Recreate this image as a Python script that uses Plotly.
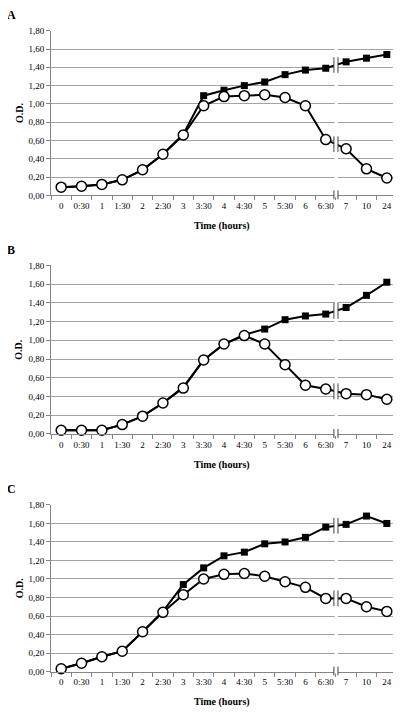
import plotly.graph_objects as go

times = ["0", "0:30", "1", "1:30", "2", "2:30", "3", "3:30", "4", "4:30",
         "5", "5:30", "6", "6:30", "7", "10", "24"]
y_ticks = [0.0, 0.2, 0.4, 0.6, 0.8, 1.0, 1.2, 1.4, 1.6, 1.8]

a_squares = [0.09, 0.10, 0.12, 0.17, 0.28, 0.45, 0.67, 1.09, 1.15, 1.20, 1.24, 1.32, 1.37, 1.39, 1.46, 1.50, 1.54]
a_circles = [0.09, 0.10, 0.12, 0.17, 0.28, 0.45, 0.66, 0.98, 1.08, 1.09, 1.10, 1.07, 0.98, 0.61, 0.51, 0.29, 0.19]
b_squares = [0.04, 0.04, 0.04, 0.10, 0.19, 0.33, 0.50, 0.79, 0.96, 1.06, 1.12, 1.22, 1.26, 1.28, 1.35, 1.48, 1.62]
b_circles = [0.04, 0.04, 0.04, 0.10, 0.19, 0.33, 0.49, 0.79, 0.96, 1.05, 0.96, 0.74, 0.52, 0.48, 0.43, 0.42, 0.37]
c_squares = [0.03, 0.09, 0.16, 0.22, 0.43, 0.65, 0.94, 1.12, 1.25, 1.29, 1.38, 1.40, 1.45, 1.56, 1.59, 1.68, 1.60]
c_circles = [0.03, 0.09, 0.16, 0.22, 0.43, 0.64, 0.83, 1.00, 1.05, 1.06, 1.03, 0.97, 0.91, 0.79, 0.79, 0.70, 0.65]

panels = [("A", a_squares, a_circles), ("B", b_squares, b_circles), ("C", c_squares, c_circles)]

# the page body has an 8px margin: work in screen pixels and shift
OFF = 8
W, H = 401 - OFF, 715 - OFF
rows_px = [(26, 193), (264, 435), (507, 676)]   # screen (top, bottom) of plot areas
x_left, x_right = 51, 397                        # screen x of plot areas


def px(xs):
    return (xs - OFF) / W


def py(ys):
    return 1 - (ys - OFF) / H


SERIF = "Liberation Serif, Times New Roman, serif"
GRID = "#a3a3a3"
AXIS = "#858585"
BREAK = 13.5  # between 6:30 and 7

fig = go.Figure()
shapes = []
annotations = []

for i, (letter, sq, ci) in enumerate(panels):
    n = "" if i == 0 else str(i + 1)
    xa, ya = "x" + n, "y" + n
    top, bot = rows_px[i]

    fig.add_trace(go.Scatter(x=times, y=sq, xaxis=xa, yaxis=ya, mode="lines+markers",
                             line=dict(color="black", width=2),
                             marker=dict(symbol="square", size=7, color="black"),
                             showlegend=False, hoverinfo="skip", cliponaxis=False))
    fig.add_trace(go.Scatter(x=times, y=ci, xaxis=xa, yaxis=ya, mode="lines+markers",
                             line=dict(color="black", width=2),
                             marker=dict(symbol="circle", size=10, color="white",
                                         line=dict(color="black", width=1.5)),
                             showlegend=False, hoverinfo="skip", cliponaxis=False))

    fig.layout["xaxis" + n] = dict(
        domain=[px(x_left), px(x_right)], anchor=ya, type="category",
        range=[-0.5, len(times) - 0.5], showgrid=False, zeroline=False,
        showline=True, linecolor=AXIS, linewidth=1,
        ticks="outside", tickson="boundaries", ticklen=4, tickcolor=AXIS,
        tickangle=0, ticklabelstandoff=2,
        tickfont=dict(family=SERIF, size=9, color="black"),
    )
    fig.layout["yaxis" + n] = dict(
        domain=[py(bot), py(top)], anchor=xa, range=[0, 1.8], tickvals=y_ticks,
        tickformat=".2f",
        showgrid=True, gridcolor=GRID, gridwidth=1, zeroline=False,
        showline=True, linecolor=AXIS, linewidth=1,
        ticks="outside", ticklen=4, tickcolor=AXIS,
        tickfont=dict(family=SERIF, size=9, color="black"),
    )

    # no gridline at the top value
    shapes.append(dict(type="line", xref=xa, yref=ya, x0=-0.5, x1=len(times) - 0.5,
                       y0=y_ticks[-1], y1=y_ticks[-1], layer="between",
                       line=dict(color="white", width=2)))
    # gap in gridlines at the axis break
    shapes.append(dict(type="rect", xref=xa, yref=ya, x0=BREAK - 0.06, x1=BREAK + 0.09,
                       y0=0.01, y1=y_ticks[-1], layer="between",
                       fillcolor="white", line=dict(width=0)))
    # break marks on each series line
    for series in (sq, ci):
        yb = (series[13] + series[14]) / 2
        shapes.append(dict(type="rect", xref=xa, yref=ya, x0=BREAK - 0.1, x1=BREAK + 0.1,
                           y0=yb - 0.06, y1=yb + 0.06, layer="above",
                           fillcolor="white", line=dict(width=0)))
        for dx in (-0.1, 0.1):
            shapes.append(dict(type="line", xref=xa, yref=ya, x0=BREAK + dx, x1=BREAK + dx,
                               y0=yb - 0.085, y1=yb + 0.085, layer="above",
                               line=dict(color="#404040", width=1)))
    # break marks on the x axis
    shapes.append(dict(type="rect", xref=xa, yref="paper", x0=BREAK - 0.1, x1=BREAK + 0.1,
                       y0=py(bot + 2), y1=py(bot - 2), layer="above",
                       fillcolor="white", line=dict(width=0)))
    for dx in (-0.1, 0.1):
        shapes.append(dict(type="line", xref=xa, yref="paper", x0=BREAK + dx, x1=BREAK + dx,
                           y0=py(bot + 4), y1=py(bot - 5), layer="above",
                           line=dict(color="#404040", width=1)))

    # panel letter
    annotations.append(dict(text="<b>%s</b>" % letter, xref="paper", yref="paper",
                            x=px(11), y=py(top - 16), xanchor="center", yanchor="middle",
                            showarrow=False, font=dict(family=SERIF, size=12, color="black")))
    # y title
    annotations.append(dict(text="<b>O.D.</b>", xref="paper", yref="paper",
                            x=px(19), y=py((top + bot) / 2), xanchor="center",
                            yanchor="middle", textangle=-90, showarrow=False,
                            font=dict(family=SERIF, size=10, color="black")))
    # x title
    annotations.append(dict(text="<b>Time (hours)</b>", xref="paper", yref="paper",
                            x=px(222), y=py(bot + 31), xanchor="center",
                            yanchor="middle", showarrow=False,
                            font=dict(family=SERIF, size=10, color="black")))

fig.update_layout(
    width=W, height=H, margin=dict(l=0, r=0, t=0, b=0),
    paper_bgcolor="white", plot_bgcolor="white",
    separators=",.", shapes=shapes, annotations=annotations,
    showlegend=False,
)

fig.write_html("out.html")
